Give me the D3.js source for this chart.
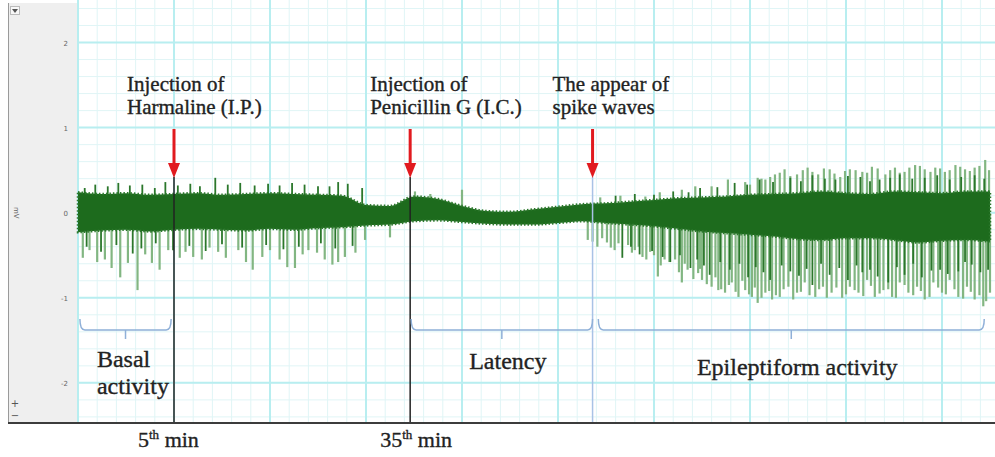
<!DOCTYPE html>
<html>
<head>
<meta charset="utf-8">
<script src="https://cdn.jsdelivr.net/npm/d3@7"></script>
<style>
  body { margin: 0; background: #fff; }
  svg { display: block; }
  .lbl { font-family: "Liberation Serif", serif; fill: #222; stroke: #222; stroke-width: 0.35px; }
</style>
</head>
<body>
<script>
// recording, x in samples (0-950), y in mV
var yTicks = [2, 1, 0, -1, -2];

// dense core of the trace (upper / lower edge)
var bandT  = [0, 25, 50, 75, 100, 125, 150, 175, 200, 225, 250, 275, 300, 325, 350, 375, 400, 425, 450, 475, 500, 525, 550, 575, 600, 625, 650, 675, 700, 725, 750, 775, 800, 825, 850, 875, 900, 925, 950];
var bandHi = [0.24, 0.22, 0.23, 0.21, 0.22, 0.23, 0.21, 0.22, 0.23, 0.22, 0.21, 0.20, 0.09, 0.08, 0.19, 0.16, 0.08, 0.02, 0.01, 0.04, 0.07, 0.10, 0.11, 0.13, 0.15, 0.17, 0.18, 0.19, 0.21, 0.22, 0.23, 0.25, 0.23, 0.22, 0.25, 0.24, 0.23, 0.25, 0.25];
var bandLo = [-0.23, -0.21, -0.20, -0.22, -0.20, -0.19, -0.20, -0.21, -0.19, -0.20, -0.18, -0.17, -0.15, -0.14, -0.10, -0.09, -0.11, -0.13, -0.14, -0.14, -0.12, -0.10, -0.12, -0.14, -0.16, -0.19, -0.22, -0.24, -0.26, -0.28, -0.31, -0.32, -0.30, -0.30, -0.32, -0.35, -0.33, -0.32, -0.34];

// long (pale) spikes
var downT = [5, 12, 20, 28, 35, 44, 52, 62, 70, 77, 85, 94, 106, 112, 120, 129, 137, 146, 154, 167, 175, 182, 192, 200, 210, 218, 226, 234, 240, 249, 257, 265, 271, 278, 289, 299, 325,
             531, 536, 541, 546, 551, 555, 559, 563, 573, 577, 580, 584, 588, 592, 596, 600, 604, 607, 611, 616, 622, 626, 629, 632, 635, 641, 646, 648, 650, 655, 660, 664, 667, 670, 674, 678,
             681, 685, 688, 692, 695, 699, 702, 705, 708, 712, 716, 720, 723, 727, 731, 735, 740, 745, 749, 753, 757, 762, 768, 772, 776, 780, 785, 790, 796, 800, 804, 809, 813, 818,
             822, 826, 830, 835, 839, 844, 848, 852, 856, 861, 865, 870, 874, 878, 882, 887, 891, 896, 900, 904, 908, 913, 917, 922, 926, 930, 934, 939, 943, 946, 950];
var downV = [-0.53, -0.44, -0.58, -0.55, -0.65, -0.76, -0.59, -0.91, -0.49, -0.59, -0.67, -0.44, -0.53, -0.46, -0.52, -0.55, -0.41, -0.46, -0.53, -0.44, -0.58, -0.67, -0.52, -0.44, -0.55, -0.64, -0.65, -0.49, -0.44, -0.47, -0.55, -0.61, -0.58, -0.52, -0.47, -0.32, -0.29,
             -0.32, -0.34, -0.40, -0.30, -0.35, -0.41, -0.44, -0.36, -0.38, -0.47, -0.44, -0.40, -0.52, -0.55, -0.46, -0.50, -0.75, -0.62, -0.55, -0.58, -0.55, -0.70, -0.82, -0.60, -0.67, -0.78, -0.71, -0.66, -0.79, -0.84,
             -0.87, -0.76, -0.91, -0.90, -0.94, -0.85, -0.82, -0.93, -0.99, -0.80, -0.91, -0.96, -0.99, -0.88, -1.06, -1.00, -0.94, -0.92, -1.02, -0.97, -0.99, -0.90, -0.87, -1.02, -0.94, -0.93,
             -0.82, -0.97, -0.99, -0.90, -0.87, -1.00, -0.94, -0.88, -1.00, -0.96, -0.87, -0.91, -0.94, -0.98, -0.79, -0.86, -0.99, -0.95, -0.91, -0.90, -0.99, -1.00, -0.82, -0.85, -0.94,
             -0.97, -0.87, -0.92, -1.02, -0.99, -0.82, -0.88, -0.94, -0.96, -0.79, -0.90, -0.99, -1.01, -0.87, -0.93, -1.02, -0.97, -1.10, -1.04, -0.94];
var upT = [351, 367, 400,
           544, 565, 591, 606, 629, 643, 660, 677, 695, 700, 708, 712, 716, 721, 726, 731, 736, 742, 749, 755, 760, 765, 771, 777, 783, 788, 794, 799, 804, 810, 817, 822, 827,
           833, 841, 846, 851, 856, 861, 866, 872, 877, 882, 888, 893, 898, 903, 908, 914, 919, 924, 929, 934, 939, 945, 949];
var upV = [0.25, 0.22, 0.27,
           0.18, 0.20, 0.19, 0.24, 0.27, 0.31, 0.31, 0.39, 0.36, 0.33, 0.41, 0.40, 0.39, 0.42, 0.45, 0.47, 0.51, 0.43, 0.45, 0.50, 0.53, 0.48, 0.45, 0.52, 0.51, 0.46, 0.42, 0.49, 0.51, 0.50, 0.48, 0.47, 0.54,
           0.52, 0.45, 0.50, 0.53, 0.47, 0.48, 0.53, 0.56, 0.55, 0.51, 0.48, 0.53, 0.52, 0.48, 0.50, 0.56, 0.54, 0.51, 0.49, 0.53, 0.55, 0.62, 0.50];

// shorter dark spikes around the core
var darkDownT = [9, 24, 40, 57, 66, 81, 99, 116, 133, 150, 171, 196, 214, 230, 253, 268, 286,
                 567, 576, 585, 598, 609, 617, 627, 638, 645, 652, 658, 669, 679, 689, 698, 706, 714, 721, 733, 742, 751, 759, 765, 774, 783, 793, 802, 811, 817, 825, 833, 844, 853, 861, 870, 879, 889, 898, 906, 917, 924, 931, 940, 948];
var darkDownV = [-0.40, -0.46, -0.38, -0.48, -0.42, -0.36, -0.44, -0.39, -0.45, -0.37, -0.41, -0.38, -0.43, -0.40, -0.36, -0.42, -0.39,
                 -0.53, -0.40, -0.49, -0.45, -0.52, -0.58, -0.50, -0.65, -0.55, -0.62, -0.73, -0.58, -0.67, -0.60, -0.76, -0.64, -0.70, -0.79, -0.62, -0.69, -0.74, -0.66, -0.85, -0.60, -0.73, -0.65,
                 -0.79, -0.62, -0.70, -0.67, -0.75, -0.82, -0.64, -0.73, -0.60, -0.76, -0.68, -0.67, -0.72, -0.69, -0.58, -0.61, -0.70, -0.67];
var darkUpT = [7, 18, 31, 42, 54, 67, 80, 91, 104, 117, 127, 143, 156, 169, 184, 198, 210, 223, 236, 250, 262, 271, 281, 296,
               560, 580, 600, 620, 636, 648, 666, 684, 697, 710, 724, 742, 753, 765, 778, 789, 802, 815, 825, 835, 846, 856, 869, 882, 895, 908, 920, 934, 944];
var darkUpV = [0.29, 0.33, 0.31, 0.35, 0.32, 0.33, 0.29, 0.36, 0.32, 0.34, 0.31, 0.41, 0.33, 0.35, 0.32, 0.34, 0.32, 0.35, 0.33, 0.31, 0.31, 0.36, 0.34, 0.29,
               0.20, 0.22, 0.21, 0.25, 0.24, 0.29, 0.30, 0.35, 0.33, 0.39, 0.36, 0.41, 0.37, 0.44, 0.40, 0.39, 0.43, 0.42, 0.37, 0.39, 0.41, 0.45, 0.40, 0.41, 0.44, 0.39, 0.42, 0.44, 0.40];

// events
var eventT  = [100, 346, 536];
var eventL1 = ["Injection of", "Injection of", "The appear of"];
var eventL2 = ["Harmaline (I.P.)", "Penicillin G (I.C.)", "spike waves"];
var timeT   = [100, 346];
var timeNum = ["5", "35"];

// phases
var phaseName  = ["Basal activity", "Latency", "Epileptiform activity"];
var phaseStart = [2, 347, 542];
var phaseEnd   = [97, 536, 944];

var W = 995, H = 457;
var svg = d3.select("body").append("svg")
    .attr("width", W)
    .attr("height", H);

var x = d3.scaleLinear().domain([0, 950]).range([78, 990]);
var y = d3.scaleLinear().domain([-2.46, 2.5]).range([422, 0]);
var y0 = y(0);

// left panel
svg.append("rect")
    .attr("x", 8).attr("y", 3)
    .attr("width", 70).attr("height", 419)
    .attr("fill", "#efefef");
svg.append("line")
    .attr("x1", 8.5).attr("y1", 3).attr("x2", 8.5).attr("y2", 423)
    .attr("stroke", "#9a9a9a").attr("stroke-width", 1);
svg.append("rect")
    .attr("x", 10.5).attr("y", 6.5).attr("width", 9).attr("height", 8)
    .attr("fill", "#f8f8f8").attr("stroke", "#bbb");
svg.append("path")
    .attr("d", "M12,9 L18,9 L15,13 Z")
    .attr("fill", "#555");
svg.append("text")
    .attr("x", 15).attr("y", 407)
    .attr("text-anchor", "middle")
    .attr("font-family", "DejaVu Sans").attr("font-size", "10px")
    .attr("fill", "#555")
    .text("+");
svg.append("text")
    .attr("x", 15).attr("y", 419)
    .attr("text-anchor", "middle")
    .attr("font-family", "DejaVu Sans").attr("font-size", "10px")
    .attr("fill", "#555")
    .text("\u2212");

// plot area
svg.append("rect")
    .attr("x", 78).attr("y", 0)
    .attr("width", W - 78).attr("height", 422)
    .attr("fill", "#fff");

// grid
var minorX = d3.range(0, 956, 20), majorX = d3.range(0, 956, 100);
var minorY = d3.range(-2.4, 2.5, 0.2);
svg.append("g").selectAll("line")
    .data(minorX).enter().append("line")
    .attr("x1", function(d){ return x(d); }).attr("x2", function(d){ return x(d); })
    .attr("y1", 0).attr("y2", 422)
    .attr("stroke", "#e0f5f6").attr("stroke-width", 1);
svg.append("g").selectAll("line")
    .data(minorY).enter().append("line")
    .attr("x1", 78).attr("x2", W)
    .attr("y1", function(d){ return y(d); }).attr("y2", function(d){ return y(d); })
    .attr("stroke", "#e0f5f6").attr("stroke-width", 1);
svg.append("g").selectAll("line")
    .data(majorX).enter().append("line")
    .attr("x1", function(d){ return x(d); }).attr("x2", function(d){ return x(d); })
    .attr("y1", 0).attr("y2", 422)
    .attr("stroke", "#b8eef0").attr("stroke-width", 2);
svg.append("g").selectAll("line")
    .data(yTicks).enter().append("line")
    .attr("x1", 78).attr("x2", W)
    .attr("y1", function(d){ return y(d); }).attr("y2", function(d){ return y(d); })
    .attr("stroke", "#b8eef0").attr("stroke-width", 2);

// y tick labels
svg.append("g").selectAll("text")
    .data(yTicks).enter().append("text")
    .attr("x", 68).attr("y", function(d){ return y(d) + 3; })
    .attr("text-anchor", "end")
    .attr("font-family", "DejaVu Sans").attr("font-size", "7px")
    .attr("fill", "#666")
    .text(function(d){ return d; });
svg.append("text")
    .attr("transform", "translate(14," + y0 + ") rotate(90)")
    .attr("text-anchor", "middle")
    .attr("font-family", "DejaVu Sans").attr("font-size", "7px")
    .attr("fill", "#666")
    .text("mV");

// trace
var trace = svg.append("g");
function spikes(ts, vs, color, width) {
    trace.append("g").selectAll("line")
        .data(ts).enter().append("line")
        .attr("x1", function(d){ return x(d); }).attr("x2", function(d){ return x(d); })
        .attr("y1", y0)
        .attr("y2", function(d, i){ return y(vs[i]); })
        .attr("stroke", color).attr("stroke-width", width);
}
spikes(downT, downV, "#82b682", 2.2);
spikes(upT, upV, "#82b682", 2.2);
spikes(darkDownT, darkDownV, "#2b772b", 1.8);
spikes(darkUpT, darkUpV, "#2b772b", 1.8);

var band = d3.area()
    .x(function(d){ return x(d); })
    .y0(function(d, i){ return y(bandLo[i]); })
    .y1(function(d, i){ return y(bandHi[i]); })
    .curve(d3.curveMonotoneX);
trace.append("path")
    .datum(bandT)
    .attr("d", band)
    .attr("fill", "#1d6b1d")
    .attr("stroke", "#2b772b")
    .attr("stroke-width", 2.5)
    .attr("stroke-dasharray", "1.5,2");

// event lines
svg.append("g").selectAll("line")
    .data(eventT).enter().append("line")
    .attr("x1", function(d){ return x(d); }).attr("x2", function(d){ return x(d); })
    .attr("y1", 177).attr("y2", 422)
    .attr("stroke", function(d, i){ return i < 2 ? "#222" : "#a9c2e6"; })
    .attr("stroke-width", 1.5);

// red arrows
var arrows = svg.append("g").selectAll("g")
    .data(eventT).enter().append("g");
arrows.append("line")
    .attr("x1", function(d){ return x(d); }).attr("x2", function(d){ return x(d); })
    .attr("y1", 129).attr("y2", 166)
    .attr("stroke", "#e11a1f").attr("stroke-width", 3);
arrows.append("path")
    .attr("d", function(d){ var cx = x(d); return "M" + (cx - 6) + ",163 L" + (cx + 6) + ",163 L" + cx + ",178 Z"; })
    .attr("fill", "#e11a1f");

// event labels
var labels = svg.append("g").selectAll("text")
    .data(eventT).enter().append("text")
    .attr("class", "lbl")
    .attr("font-size", "21px");
labels.append("tspan")
    .attr("x", function(d){ return x(d) - (d === eventT[0] ? 47 : 40); })
    .attr("y", 91)
    .text(function(d, i){ return eventL1[i]; });
labels.append("tspan")
    .attr("x", function(d){ return x(d) - (d === eventT[0] ? 47 : 40); })
    .attr("y", 114)
    .text(function(d, i){ return eventL2[i]; });

// phase brackets
svg.append("g").selectAll("path")
    .data(phaseStart).enter().append("path")
    .attr("d", function(d, i){
        var a = x(d), b = x(phaseEnd[i]), m = (a + b) / 2, yb = 330;
        return "M" + a + "," + (yb - 11) + " Q" + a + "," + yb + " " + (a + 5) + "," + yb +
               " L" + (b - 5) + "," + yb + " Q" + b + "," + yb + " " + b + "," + (yb - 11) +
               " M" + m + "," + yb + " L" + m + "," + (yb + 9);
    })
    .attr("fill", "none")
    .attr("stroke", "#8fb0d8")
    .attr("stroke-width", 1.5);

svg.append("text")
    .attr("class", "lbl")
    .attr("font-size", "24px")
    .selectAll("tspan")
    .data(phaseName[0].split(" ")).enter().append("tspan")
    .attr("x", x(phaseStart[0]) + 17)
    .attr("y", function(d, i){ return 367 + i * 27; })
    .text(function(d){ return d; });
svg.append("g").selectAll("text")
    .data(phaseName.slice(1)).enter().append("text")
    .attr("class", "lbl")
    .attr("x", function(d, i){ return (x(phaseStart[i + 1]) + x(phaseEnd[i + 1])) / 2 + 6; })
    .attr("y", function(d, i){ return i === 0 ? 369 : 375; })
    .attr("text-anchor", "middle")
    .attr("font-size", "24px")
    .text(function(d){ return d; });

// time axis
svg.append("line")
    .attr("x1", 8).attr("x2", W).attr("y1", 423).attr("y2", 423)
    .attr("stroke", "#3c3c3c").attr("stroke-width", 2);

var tl = svg.append("g").selectAll("text")
    .data(timeT).enter().append("text")
    .attr("class", "lbl")
    .attr("x", function(d, i){ return x(d) - (i === 0 ? 36 : 30); })
    .attr("y", 447)
    .attr("font-size", "22px");
tl.append("tspan").text(function(d, i){ return timeNum[i]; });
tl.append("tspan").attr("dy", -8).attr("font-size", "13px").text("th");
tl.append("tspan").attr("dy", 8).text(" min");
</script>
</body>
</html>
